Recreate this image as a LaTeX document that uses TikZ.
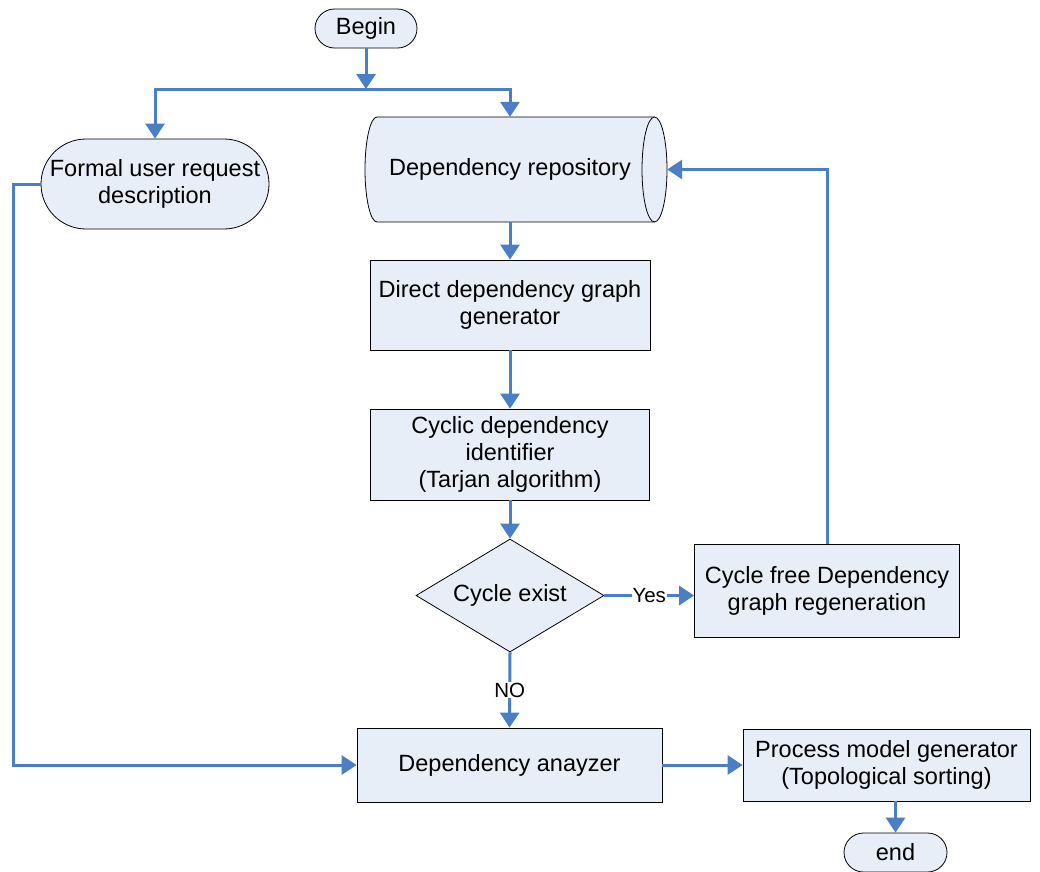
\documentclass[tikz,border=0pt]{standalone}
\usepackage{fontspec}
\setmainfont{Liberation Sans}
\usetikzlibrary{arrows.meta,shapes.geometric,calc}
\definecolor{fillc}{HTML}{E8EEF8}
\definecolor{linec}{HTML}{4A7EC5}
\newcommand\mainfs{\fontsize{23.5}{27}\selectfont}
\newcommand\lblfs{\fontsize{20.5}{24}\selectfont}
\begin{document}
\begin{tikzpicture}[x=1pt,y=-1pt,
  box/.style={draw=black, line width=0.8pt, fill=fillc, align=center, inner sep=2pt, font=\mainfs},
  arr/.style={draw=linec, line width=3pt, -{Triangle[width=19pt,length=15pt]}},
  lbl/.style={font=\lblfs, fill=white, inner sep=1pt, text=black}]
\useasboundingbox (0,0) rectangle (1040,871);

% cylinder (dependency repository)
\path[fill=fillc] (377,117) -- (654.5,117) arc[start angle=-90,end angle=90,x radius=12.5,y radius=52.5]
  -- (377,222) arc[start angle=90,end angle=270,x radius=12,y radius=52.5] -- cycle;
\draw[black, line width=0.8pt] (654.5,117) -- (377,117) arc[start angle=270,end angle=90,x radius=12,y radius=52.5] -- (654.5,222);
\draw[black, line width=0.8pt] (654.5,169.5) ellipse[x radius=12.5,y radius=52.5];
\node[minimum width=314pt, minimum height=105pt, inner sep=0pt, font=\mainfs] (repo) at (510,169.5) {Dependency repository};

\node[box, rounded corners=19.5pt, minimum width=102pt, minimum height=39pt] (begin) at (366,28.5) {Begin};
\node[box, rounded corners=45pt, minimum width=228pt, minimum height=90pt] (formal) at (155,184) {Formal user request\\description};
\node[box, minimum width=280pt, minimum height=90pt] (direct) at (510,305) {Direct dependency graph\\generator};
\node[box, minimum width=279pt, minimum height=91pt] (cyclic) at (510,454.5) {Cyclic dependency\\identifier\\(Tarjan algorithm)};
\node[diamond, draw=black, line width=0.8pt, fill=fillc, aspect=1.66, minimum width=188pt, minimum height=113pt, inner sep=0pt, font=\mainfs] (dia) at (510,595.5) {Cycle exist};
\node[box, minimum width=265pt, minimum height=93pt] (cf) at (827,590.5) {Cycle free Dependency\\graph regeneration};
\node[box, minimum width=305pt, minimum height=74pt] (ana) at (509.5,765) {Dependency anayzer};
\node[box, minimum width=287pt, minimum height=72pt] (proc) at (886.5,765) {Process model generator\\(Topological sorting)};
\node[box, rounded corners=19.5pt, minimum width=103pt, minimum height=39pt] (endn) at (895.5,852.5) {end};

\coordinate (j) at (366,89);
\coordinate (lft) at (13,0);

\draw[arr] (begin.south) -- (j);
\draw[arr] (j) -| (formal.north);
\draw[arr] (j) -| (repo.north);
\draw[arr] (repo.south) -- (direct.north);
\draw[arr] (direct.south) -- (cyclic.north);
\draw[arr] (cyclic.south) -- (dia.north);
\draw[arr] (dia.east) -- node[lbl]{Yes} (dia.east -| cf.west);
\draw[arr] (cf.north) |- (repo.east);
\draw[arr] (dia.south) -- node[lbl]{NO} (ana.north);
\draw[arr] (formal.west) -- (formal.west -| lft) |- (ana.west);
\draw[arr] (ana.east) -- (proc.west);
\draw[arr] (endn.north |- proc.south) -- (endn.north);
\end{tikzpicture}
\end{document}
